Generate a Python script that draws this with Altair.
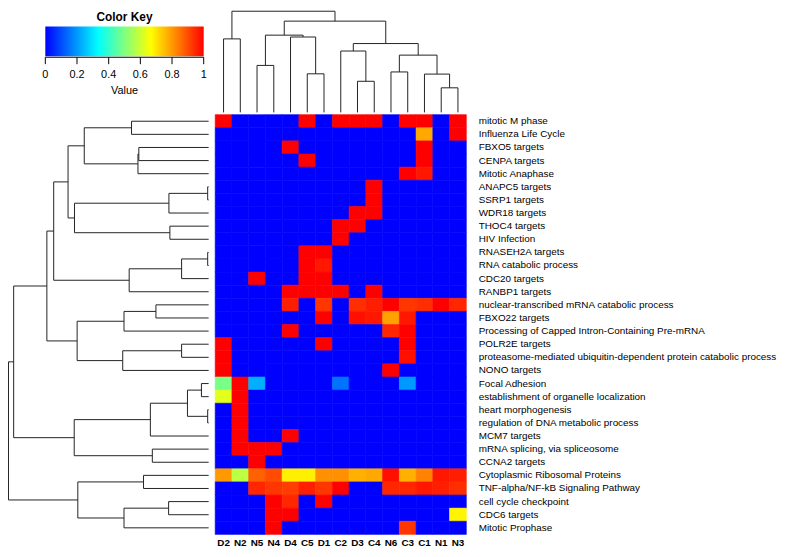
import altair as alt
import pandas as pd

FONT = "Liberation Sans"

# ---------------- data ----------------
columns = ["D2", "N2", "N5", "N4", "D4", "C5", "D1", "C2", "D3", "C4", "N6", "C3", "C1", "N1", "N3"]

rows = [
    "mitotic M phase", "Influenza Life Cycle", "FBXO5 targets", "CENPA targets",
    "Mitotic Anaphase", "ANAPC5 targets", "SSRP1 targets", "WDR18 targets",
    "THOC4 targets", "HIV Infection", "RNASEH2A targets", "RNA catabolic process",
    "CDC20 targets", "RANBP1 targets", "nuclear-transcribed mRNA catabolic process",
    "FBXO22 targets", "Processing of Capped Intron-Containing Pre-mRNA", "POLR2E targets",
    "proteasome-mediated ubiquitin-dependent protein catabolic process", "NONO targets",
    "Focal Adhesion", "establishment of organelle localization", "heart morphogenesis",
    "regulation of DNA metabolic process", "MCM7 targets", "mRNA splicing, via spliceosome",
    "CCNA2 targets", "Cytoplasmic Ribosomal Proteins", "TNF-alpha/NF-kB Signaling Pathway",
    "cell cycle checkpoint", "CDC6 targets", "Mitotic Prophase",
]

#            D2   N2   N5   N4   D4   C5   D1   C2   D3   C4   N6   C3   C1   N1   N3
values = [
    [1,   0,   0,   0,   0,   1,   0,   1,   1,   1,   0,   1,   1,   0,   1],
    [0,   0,   0,   0,   0,   0,   0,   0,   0,   0,   0,   0,   .78, 0,   1],
    [0,   0,   0,   0,   1,   0,   0,   0,   0,   0,   0,   0,   1,   0,   0],
    [0,   0,   0,   0,   0,   1,   0,   0,   0,   0,   0,   0,   1,   0,   0],
    [0,   0,   0,   0,   0,   0,   0,   0,   0,   0,   0,   1,   .97, 0,   0],
    [0,   0,   0,   0,   0,   0,   0,   0,   0,   1,   0,   0,   0,   0,   0],
    [0,   0,   0,   0,   0,   0,   0,   0,   0,   1,   0,   0,   0,   0,   0],
    [0,   0,   0,   0,   0,   0,   0,   0,   1,   1,   0,   0,   0,   0,   0],
    [0,   0,   0,   0,   0,   0,   0,   1,   1,   0,   0,   0,   0,   0,   0],
    [0,   0,   0,   0,   0,   0,   0,   1,   0,   0,   0,   0,   0,   0,   0],
    [0,   0,   0,   0,   0,   1,   1,   0,   0,   0,   0,   0,   0,   0,   0],
    [0,   0,   0,   0,   0,   1,   .97, 0,   0,   0,   0,   0,   0,   0,   0],
    [0,   0,   1,   0,   0,   1,   1,   0,   0,   0,   0,   0,   0,   0,   0],
    [0,   0,   0,   0,   1,   1,   1,   1,   0,   1,   0,   0,   0,   0,   0],
    [0,   0,   0,   0,   .96, 0,   .93, 0,   .94, .96, 1,   .93, .94, 1,   .95],
    [0,   0,   0,   0,   0,   0,   1,   0,   .98, .97, .79, .97, 0,   0,   0],
    [0,   0,   0,   0,   1,   0,   0,   0,   0,   0,   .95, 1,   0,   0,   0],
    [1,   0,   0,   0,   0,   0,   1,   0,   0,   0,   0,   1,   0,   0,   0],
    [1,   0,   0,   0,   0,   0,   0,   0,   0,   0,   0,   .98, 0,   0,   0],
    [1,   0,   0,   0,   0,   0,   0,   0,   0,   0,   1,   0,   0,   0,   0],
    [.49, 1,   .23, 0,   0,   0,   0,   .15, 0,   0,   0,   .2,  0,   0,   0],
    [.63, 1,   0,   0,   0,   0,   0,   0,   0,   0,   0,   0,   0,   0,   0],
    [0,   1,   0,   0,   0,   0,   0,   0,   0,   0,   0,   0,   0,   0,   0],
    [0,   1,   0,   0,   0,   0,   0,   0,   0,   0,   0,   0,   0,   0,   0],
    [0,   1,   0,   0,   1,   0,   0,   0,   0,   0,   0,   0,   0,   0,   0],
    [0,   1,   1,   1,   0,   0,   0,   0,   0,   0,   0,   0,   0,   0,   0],
    [0,   0,   1,   0,   0,   0,   0,   0,   0,   0,   0,   0,   0,   0,   0],
    [.80, .58, .875, .90, .687, .687, .81, .81, .77, .78, .98, .77, .83, .97, .96],
    [0,   0,   .95, .93, .92, .96, .93, 1,   0,   0,   .95, .95, .97, .96, .94],
    [0,   0,   0,   1,   .95, 0,   1,   0,   0,   0,   0,   0,   0,   0,   0],
    [0,   0,   0,   1,   1,   0,   0,   0,   0,   0,   0,   0,   0,   0,   .68],
    [0,   0,   0,   1,   0,   0,   0,   0,   0,   0,   0,   .93, 0,   0,   0],
]

# dendrograms in hclust style: negative = leaf (1-based display order), positive = earlier merge
col_merges = [
    (-14, -15, 26.3), (-9, -10, 33.3), (-13, 1, 41.0), (-6, -7, 41.3), (-11, -12, 43.3),
    (-3, -4, 50.3), (5, 3, 61.3), (-8, 2, 65.7), (8, 7, 73.7), (-1, -2, 78.7),
    (-5, 4, 80.7), (6, 11, 82.7), (12, 9, 97.7), (10, 13, 108.3),
]
row_merges = [
    (-6, -7, 1.0), (-11, -12, 1.0), (-23, -24, 1.0), (-21, -22, 7.4), (4, 3, 21.7),
    (2, -13, 27.7), (-18, -19, 27.7), (-9, -10, 39.7), (1, -8, 40.7), (-30, -31, 41.0),
    (-15, -16, 54.0), (-26, -27, 57.7), (5, -25, 59.7), (-28, -29, 66.7), (-3, -4, 71.5),
    (15, -5, 72.4), (-1, -2, 79.0), (6, -14, 81.4), (11, -17, 86.7), (10, -32, 86.7),
    (7, -20, 88.0), (17, 16, 127.4), (14, 20, 134.0), (19, 21, 134.7), (9, 8, 137.4),
    (13, 12, 137.7), (22, 25, 144.0), (27, 18, 158.7), (28, 24, 165.7), (29, 26, 199.7),
    (30, 23, 205.0),
]

ramp_domain = [0, 1 / 3, 2 / 3, 1]
ramp_colors = ["#0000ff", "#00ffff", "#ffff00", "#ff0000"]
key_ticks = [0, 0.2, 0.4, 0.6, 0.8, 1]
key_labels = ["0", "0.2", "0.4", "0.6", "0.8", "1"]

# ---------------- tables ----------------
heat = pd.DataFrame(
    [{"row": r, "col": c, "v": values[i][j]} for i, r in enumerate(rows) for j, c in enumerate(columns)]
)


def dendro(merges):
    nodes, segs = [], []

    def get(ref):
        if ref < 0:
            return float(-ref - 1), 0.0
        return nodes[ref - 1]

    for a, b, h in merges:
        pa, ha = get(a)
        pb, hb = get(b)
        segs.append({"p": pa, "p2": pa, "h": ha, "h2": h})
        segs.append({"p": pb, "p2": pb, "h": hb, "h2": h})
        segs.append({"p": pa, "p2": pb, "h": h, "h2": h})
        nodes.append(((pa + pb) / 2, h))
    return pd.DataFrame(segs)


col_seg = dendro(col_merges)
row_seg = dendro(row_merges)

# ---------------- layout (pixels inside the plot area) ----------------
W, H = 463, 529
HX = [209.3, 463]
HY = [105, 529]

ramp = alt.Scale(domain=ramp_domain, range=ramp_colors, interpolate="rgb")

heatmap = alt.Chart(heat).mark_rect(strokeWidth=0.6).encode(
    x=alt.X("col:N", sort=columns, scale=alt.Scale(range=HX, paddingInner=0, paddingOuter=0),
            axis=alt.Axis(orient="bottom", title=None, ticks=False, domain=False, labelAngle=0,
                          labelFontSize=10, labelFontWeight="bold", labelColor="black",
                          labelPadding=3, labelFont=FONT)),
    y=alt.Y("row:N", sort=rows, scale=alt.Scale(range=HY, paddingInner=0, paddingOuter=0),
            axis=alt.Axis(orient="right", title=None, ticks=False, domain=False,
                          labelFontSize=10, labelColor="black", labelPadding=12,
                          labelLimit=400, labelFont=FONT)),
    fill=alt.Fill("v:Q", scale=ramp, legend=None),
    stroke=alt.Stroke("v:Q", scale=ramp, legend=None),
)

line_col = "#222222"
col_dendro = alt.Chart(col_seg).mark_rule(color=line_col, strokeWidth=1).encode(
    x=alt.X("p:Q", scale=alt.Scale(domain=[-0.5, len(columns) - 0.5], range=HX, nice=False, zero=False), axis=None),
    x2="p2:Q",
    y=alt.Y("h:Q", scale=alt.Scale(domain=[0, 108.3], range=[102.7, 0.5], nice=False, zero=False), axis=None),
    y2="h2:Q",
)

row_dendro = alt.Chart(row_seg).mark_rule(color=line_col, strokeWidth=1).encode(
    y=alt.Y("p:Q", scale=alt.Scale(domain=[-0.5, len(rows) - 0.5], range=HY, nice=False, zero=False), axis=None),
    y2="p2:Q",
    x=alt.X("h:Q", scale=alt.Scale(domain=[0, 205.0], range=[202.7, 0.5], nice=False, zero=False), axis=None),
    x2="h2:Q",
)

# ---------------- colour key ----------------
key_scale = alt.Scale(domain=[0, 1], range=[37.7, 197.7], nice=False, zero=False)
gradient = {
    "gradient": "linear", "x1": 0, "x2": 1, "y1": 0, "y2": 0,
    "stops": [{"offset": o, "color": c} for o, c in zip(ramp_domain, ramp_colors)],
}
key_df = pd.DataFrame({"lo": [key_ticks[0]], "hi": [key_ticks[-1]]})
key_bar = alt.Chart(key_df).mark_rect(fill=gradient).encode(
    x=alt.X("lo:Q", scale=key_scale, axis=None), x2="hi:Q",
    y=alt.value(16), y2=alt.value(46),
)
key_line = alt.Chart(key_df).mark_rule(color="black", strokeWidth=1).encode(
    x=alt.X("lo:Q", scale=key_scale, axis=None), x2="hi:Q", y=alt.value(47),
)
tick_df = pd.DataFrame({"t": key_ticks, "label": key_labels})
key_ticks_m = alt.Chart(tick_df).mark_rule(color="black", strokeWidth=1).encode(
    x=alt.X("t:Q", scale=key_scale, axis=None), y=alt.value(47), y2=alt.value(54),
)
key_text = alt.Chart(tick_df).mark_text(fontSize=11, font=FONT, color="black", baseline="middle").encode(
    x=alt.X("t:Q", scale=key_scale, axis=None), y=alt.value(65), text="label:N",
)
key_title = alt.Chart(pd.DataFrame({"t": ["Color Key"]})).mark_text(
    fontSize=12, fontWeight="bold", font=FONT, color="black", baseline="middle"
).encode(x=alt.value(117.7), y=alt.value(6), text="t:N")
key_value = alt.Chart(pd.DataFrame({"t": ["Value"]})).mark_text(
    fontSize=11, font=FONT, color="black", baseline="middle"
).encode(x=alt.value(117.7), y=alt.value(81), text="t:N")

chart = alt.layer(
    heatmap, col_dendro, row_dendro, key_bar, key_line, key_ticks_m, key_text, key_title, key_value
).resolve_scale(
    x="independent", y="independent"
).properties(
    width=W, height=H,
    autosize=alt.AutoSizeParams(type="none"),
    padding={"left": 0, "top": 0, "right": 329, "bottom": 12},
).configure(font=FONT).configure_view(stroke=None)

chart.save("out.html", embed_options={"renderer": "svg", "actions": False})
